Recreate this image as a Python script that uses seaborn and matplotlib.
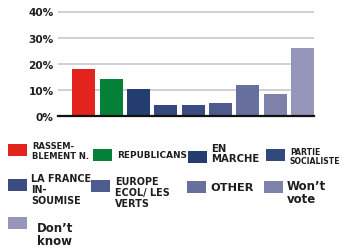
import matplotlib
matplotlib.use("Agg")
import matplotlib.pyplot as plt
import seaborn as sns
import pandas as pd
from matplotlib.patches import Rectangle

# ---- data ----
categories = ["RASSEMBLEMENT N.", "REPUBLICANS", "EN MARCHE", "PARTIE SOCIALISTE",
              "LA FRANCE INSOUMISE", "EUROPE ECOL/ LES VERTS", "OTHER", "Won't vote", "Don't know"]
values = [17.8, 14.2, 10.3, 4.4, 4.4, 5.1, 11.8, 8.4, 26.0]
colors = ["#e3241d", "#058038", "#233d70", "#33487b", "#3b4c82", "#4e5b8d",
          "#67709c", "#7e81aa", "#9596b9"]
legend_labels = ["RASSEM-\nBLEMENT N.", "REPUBLICANS", "EN\nMARCHE", "PARTIE\nSOCIALISTE",
                 "LA FRANCE\nIN-\nSOUMISE", "EUROPE\nECOL/ LES\nVERTS", "OTHER", "Won\u2019t\nvote",
                 "Don\u2019t\nknow"]
yticks = [0, 10, 20, 30, 40]
ytick_labels = ["0%", "10%", "20%", "30%", "40%"]

W, H = 346, 253
sns.set_style("white")
plt.rcParams["font.family"] = ["DejaVu Sans"]
fig = plt.figure(figsize=(W / 100, H / 100), dpi=100)
ymax = 40.5
px_per = (117 - 12.5) / 40
ax = fig.add_axes([58 / W, 1 - 117 / H, 256 / W, ymax * px_per / H])

df = pd.DataFrame({"cat": categories, "val": values})
sns.barplot(data=df, x="cat", y="val", hue="cat", palette=colors, width=0.84,
            legend=False, ax=ax, saturation=1, linewidth=0)

ax.set_xlim(-0.95, 8.42)
ax.set_ylim(0, ymax)
ax.set_yticks(yticks)
ax.set_yticklabels(ytick_labels, fontsize=7.6, fontweight="bold", color="#1e1e1e")
ax.set_xticks([])
ax.set_xlabel("")
ax.set_ylabel("")
ax.tick_params(axis="y", length=0, pad=3)
ax.grid(axis="y", color="#c4c4c4", linewidth=1.1)
ax.set_axisbelow(True)
for s in ["top", "right", "left"]:
    ax.spines[s].set_visible(False)
ax.spines["bottom"].set_color("#111111")
ax.spines["bottom"].set_linewidth(1.6)

# ---- legend (manual layout) ----
# handle (x, y top) px, text (x, y top) px, fontsize pt, linespacing
leg_layout = [
    ((8, 145), (32, 142.5), 6.0, 1.05),
    ((93, 150), (117, 151), 6.4, 1.0),
    ((188, 152), (211, 144), 7.3, 1.0),
    ((266, 150), (290, 148), 5.6, 1.05),
    ((8, 180), (31, 174), 6.9, 1.1),
    ((91, 181), (115, 177), 6.9, 1.1),
    ((187, 182), (210, 183), 8.2, 1.0),
    ((264, 182), (287, 180), 8.5, 1.0),
    ((8, 218), (37, 222), 8.5, 1.0),
]
hw, hh = 19, 11.5
for i, ((hx, hy), (tx, ty), fs, ls) in enumerate(leg_layout):
    fig.patches.append(Rectangle((hx / W, 1 - (hy + hh) / H), hw / W, hh / H,
                                 transform=fig.transFigure, color=colors[i], lw=0))
    fig.text(tx / W, 1 - ty / H, legend_labels[i], fontsize=fs, fontweight="bold",
             color="#1e1e1e", va="top", ha="left", linespacing=ls)

fig.savefig("out.png", dpi=100)
